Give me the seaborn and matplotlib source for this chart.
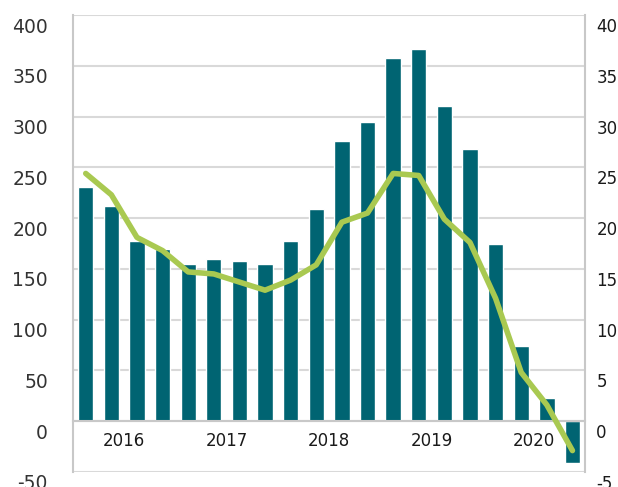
import seaborn as sns
import matplotlib.pyplot as plt
import matplotlib.transforms as mtransforms
import numpy as np

# quarterly values, 2016-2020
bars = [231, 212, 177, 170, 155, 160, 158, 155, 177, 209,
        276, 295, 358, 367, 310, 268, 175, 74, 23, -41]
line = [24.4, 22.3, 18.1, 16.8, 14.7, 14.5, 13.7, 12.9, 13.9, 15.4,
        19.6, 20.5, 24.4, 24.2, 19.9, 17.6, 12.1, 4.8, 1.6, -2.9]
years = ['2016', '2017', '2018', '2019', '2020']

sns.set_style("white")
plt.rcParams['font.family'] = ['DejaVu Sans']
plt.rcParams['axes.unicode_minus'] = False

fig = plt.figure(figsize=(6.18, 4.87), dpi=100)
ax = fig.add_axes([0.118, 0.031, 0.829, 0.938])

x = np.arange(len(bars))
sns.barplot(x=x, y=bars, color='#006472', saturation=1, width=0.6, ax=ax)
for p in ax.patches:
    p.set_zorder(3)
ax.set_xlim(-0.5, len(bars) - 0.5)
ax.set_ylim(-50, 400)
ax.set_yticks(np.arange(-50, 401, 50))
ax.set_axisbelow(True)
ax.yaxis.grid(True, color='#d9d9d9', lw=1.5)

# year labels centred on each group of four quarters, separators between groups
ax.spines['bottom'].set_position(('data', 0))
ax.spines['bottom'].set_color('#c8c8c8')
ax.spines['bottom'].set_linewidth(1.5)
ax.spines['bottom'].set_zorder(4)
ax.set_xticks([3.5, 7.5, 11.5, 15.5])
ax.set_xticklabels([])
ax.tick_params(axis='x', which='major', length=10, width=2, color='#a6a6a6', direction='out')
ax.set_xticks([1.5, 5.5, 9.5, 13.5, 17.5], minor=True)
ax.set_xticklabels(years, minor=True, fontsize=12, color='#1a1a1a')
ax.tick_params(axis='x', which='minor', length=0, pad=8)
ax.set_xlabel('')

ax.spines['left'].set_color('#c8c8c8')
ax.spines['left'].set_linewidth(1.5)
ax.spines['top'].set_visible(False)
ax.spines['right'].set_visible(False)
ax.tick_params(axis='y', length=0, pad=18, labelsize=13.5, labelcolor='#333333')

ax2 = ax.twinx()
sns.lineplot(x=x, y=line, color='#a9c951', lw=4, ax=ax2)
ax2.set_ylim(-5, 40)
ax2.set_yticks(np.arange(-5, 41, 5))
ax2.tick_params(axis='y', length=0, pad=8, labelsize=12, labelcolor='#1a1a1a')
for s in ['top', 'left', 'bottom']:
    ax2.spines[s].set_visible(False)
ax2.spines['right'].set_color('#c8c8c8')
ax2.spines['right'].set_linewidth(1.5)

# value labels sit a little below their gridlines
shift = mtransforms.ScaledTranslation(0, -0.1, fig.dpi_scale_trans)
for lab in ax.get_yticklabels() + ax2.get_yticklabels():
    lab.set_transform(lab.get_transform() + shift)

fig.savefig('out.png', dpi=100)
